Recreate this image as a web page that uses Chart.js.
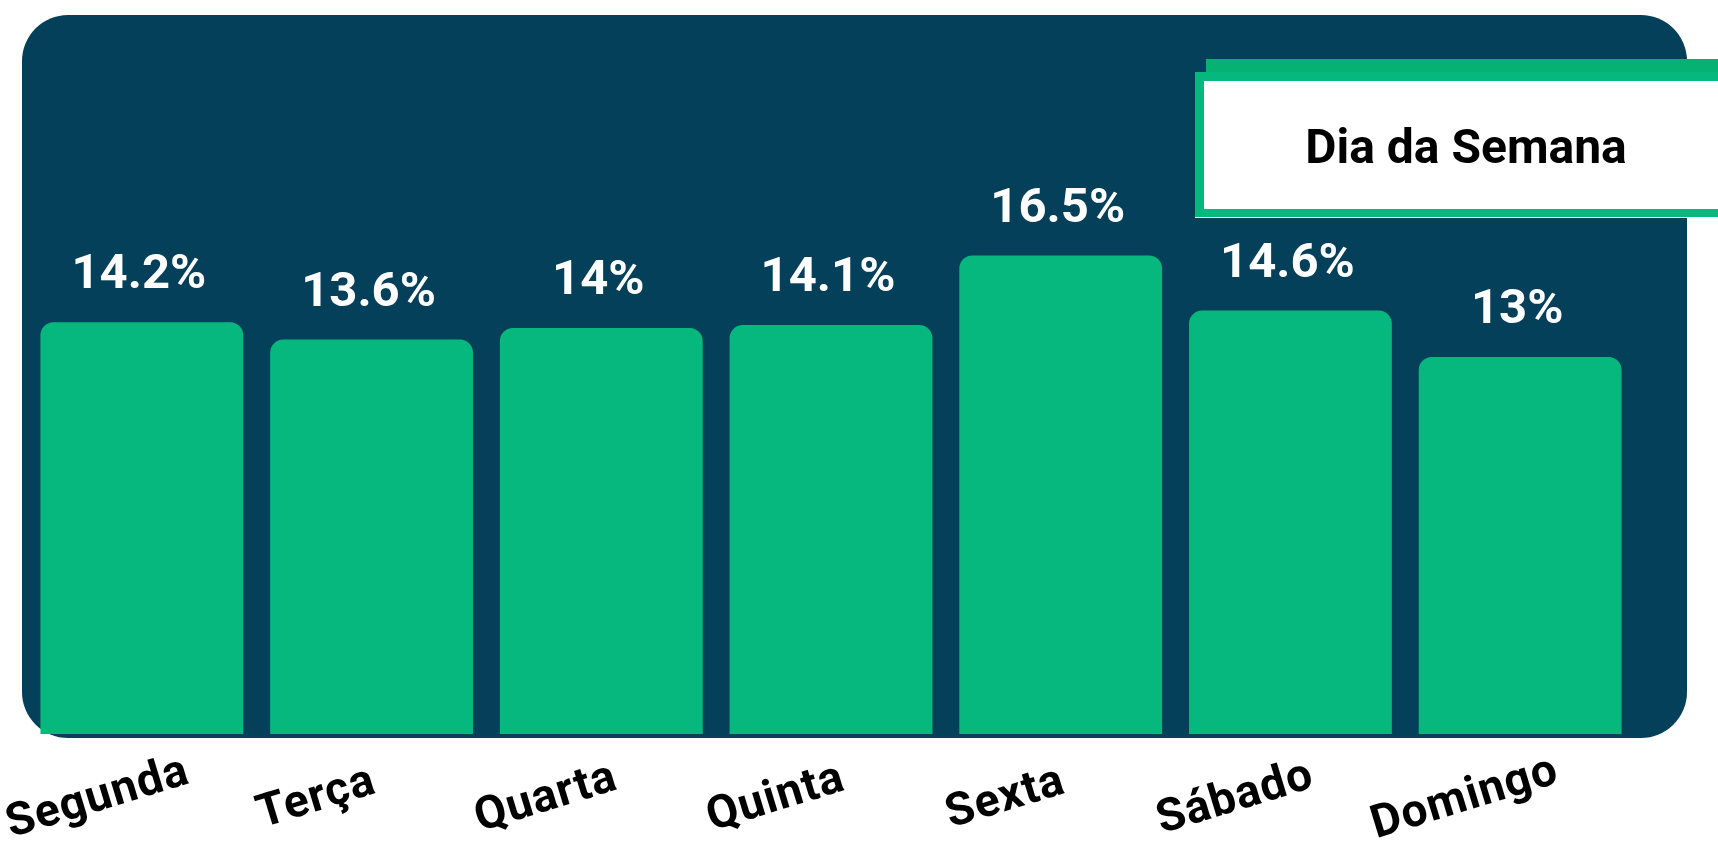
<!DOCTYPE html>
<html>
<head>
<meta charset="utf-8">
<script src="https://cdn.jsdelivr.net/npm/chart.js@4.4.0/dist/chart.umd.min.js"></script>
<style>
  html, body { margin: 0; padding: 0; background: #ffffff; }
  canvas { display: block; }
</style>
</head>
<body>
<canvas id="diaSemanaChart" width="1718" height="842"></canvas>
<script>
// Dados
const dias = ['Segunda', 'Terça', 'Quarta', 'Quinta', 'Sexta', 'Sábado', 'Domingo'];
const percentuais = [14.2, 13.6, 14, 14.1, 16.5, 14.6, 13];
const tituloGrafico = 'Dia da Semana';

const AZUL = '#04405a';
const VERDE = '#06b87e';
const FONTE = 'Roboto, "Open Sans", sans-serif';

// fundo, rótulos e caixa de título
const decoracao = {
    id: 'decoracao',
    beforeDraw(chart) {
        const ctx = chart.ctx;
        ctx.save();
        ctx.fillStyle = AZUL;
        ctx.beginPath();
        ctx.roundRect(22, 15, 1665, 723, 46);
        ctx.fill();
        ctx.restore();
    },
    afterDatasetsDraw(chart) {
        const ctx = chart.ctx;
        const meta = chart.getDatasetMeta(0);
        const xScale = chart.scales.x;

        // valores acima das barras
        ctx.save();
        ctx.fillStyle = '#ffffff';
        ctx.font = 'bold 49px ' + FONTE;
        ctx.textAlign = 'center';
        ctx.textBaseline = 'alphabetic';
        meta.data.forEach((bar, i) => {
            ctx.fillText(percentuais[i] + '%', bar.x - 3, bar.y - 34);
        });
        ctx.restore();

        // rótulos dos dias (inclinados)
        ctx.save();
        ctx.fillStyle = '#000000';
        ctx.font = 'bold 46px ' + FONTE;
        ctx.letterSpacing = '1px';
        ctx.textAlign = 'center';
        ctx.textBaseline = 'middle';
        const ang = -17 * Math.PI / 180;
        dias.forEach((dia, i) => {
            const w = ctx.measureText(dia).width;
            const meiaLarg = (w * Math.cos(-ang) + 40 * Math.sin(-ang)) / 2;
            let x = xScale.getPixelForValue(i) - 55;
            x = Math.max(x, meiaLarg + 2);
            ctx.save();
            ctx.translate(x, 799);
            ctx.rotate(ang);
            ctx.fillText(dia, 0, 0);
            ctx.restore();
        });
        ctx.restore();

        // caixa do título
        ctx.save();
        ctx.fillStyle = '#06b273';
        ctx.fillRect(1206, 59, 600, 30);
        ctx.fillStyle = '#ffffff';
        ctx.fillRect(1195, 216, 600, 2);
        ctx.fillStyle = VERDE;
        ctx.fillRect(1195, 72, 600, 145);
        ctx.fillStyle = '#ffffff';
        ctx.fillRect(1204, 81, 600, 128);
        ctx.fillStyle = '#000000';
        ctx.font = 'bold 48px ' + FONTE;
        ctx.textAlign = 'center';
        ctx.textBaseline = 'alphabetic';
        ctx.fillText(tituloGrafico, 1466, 163);
        ctx.restore();
    }
};

const ctx = document.getElementById('diaSemanaChart');
new Chart(ctx, {
    type: 'bar',
    data: {
        labels: dias,
        datasets: [{
            label: tituloGrafico,
            data: percentuais,
            backgroundColor: VERDE,
            borderWidth: 0,
            borderRadius: 13,
            borderSkipped: 'bottom',
            categoryPercentage: 1.0,
            barPercentage: 0.883
        }]
    },
    options: {
        responsive: false,
        devicePixelRatio: 1,
        animation: false,
        layout: { padding: { left: 27, right: 83, top: 154, bottom: 108 } },
        plugins: {
            legend: { display: false },
            tooltip: { enabled: false }
        },
        scales: {
            x: { display: false },
            y: { display: false, min: 0, max: 20 }
        }
    },
    plugins: [decoracao]
});
</script>
</body>
</html>
